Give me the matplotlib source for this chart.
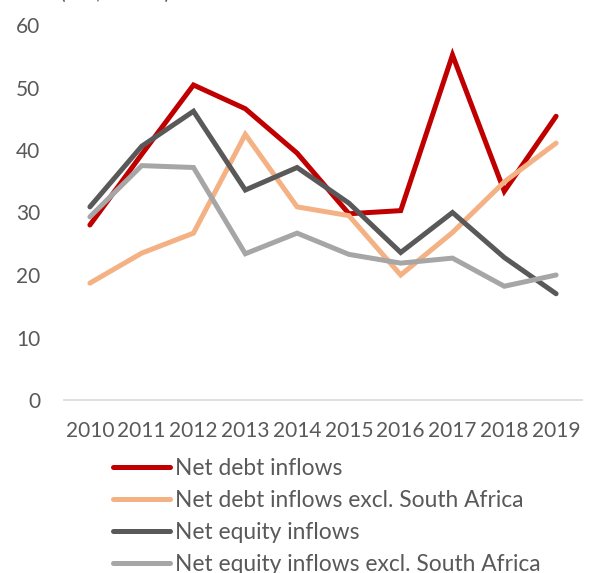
import matplotlib
matplotlib.use("Agg")
import matplotlib.pyplot as plt

years = ["2010", "2011", "2012", "2013", "2014", "2015", "2016", "2017", "2018", "2019"]
net_debt = [28.0, 39.3, 50.4, 46.6, 39.5, 29.8, 30.3, 55.2, 33.4, 45.4]
net_debt_ex_sa = [18.7, 23.5, 26.7, 42.5, 30.9, 29.5, 20.0, 26.8, 34.9, 41.1]
net_equity = [30.9, 40.6, 46.2, 33.6, 37.2, 31.5, 23.6, 30.0, 22.8, 17.0]
net_equity_ex_sa = [29.3, 37.5, 37.2, 23.4, 26.7, 23.3, 21.9, 22.7, 18.2, 20.0]
labels = ["Net debt inflows", "Net debt inflows excl. South Africa",
          "Net equity inflows", "Net equity inflows excl. South Africa"]
yticks = [0, 10, 20, 30, 40, 50, 60]

colors = ["#C00000", "#F4B183", "#595959", "#A6A6A6"]
txt = "#595959"
plt.rcParams['font.family'] = ['Lato', 'DejaVu Sans']

W, H = 592, 573
fig = plt.figure(figsize=(W/100, H/100), dpi=100)
ax = fig.add_axes([64/W, 1-400/H, 518/W, 375/H])

x = list(range(len(years)))
series = [net_debt, net_debt_ex_sa, net_equity, net_equity_ex_sa]
for s, c, l in zip(series, colors, labels):
    ax.plot(x, s, color=c, lw=3.6, label=l, solid_capstyle='round', solid_joinstyle='miter')

ax.set_xlim(-0.5, len(years)-0.5)
ax.set_ylim(0, 60)
ax.set_yticks(yticks)
ax.set_yticklabels([str(v) for v in yticks])
ax.set_xticks(x)
ax.set_xticklabels(years)
for s in ['top', 'right', 'left']:
    ax.spines[s].set_visible(False)
ax.spines['bottom'].set_color('#D9D9D9')
ax.spines['bottom'].set_linewidth(1.2)
ax.tick_params(axis='both', length=0, labelsize=15, labelcolor=txt)
ax.tick_params(axis='y', pad=17)
ax.tick_params(axis='x', pad=15)

fig.text(60/W, 1 + 1/H, "(US$ billion)", fontsize=15, color=txt, va='baseline', ha='left')

fig.legend(loc='upper left', bbox_to_anchor=(113/W, 1-458/H), frameon=False,
           fontsize=16.4, labelcolor=txt, handlelength=2.5, handletextpad=0.22,
           labelspacing=0.48, borderaxespad=0, borderpad=0)

fig.savefig("out.png", dpi=100)
